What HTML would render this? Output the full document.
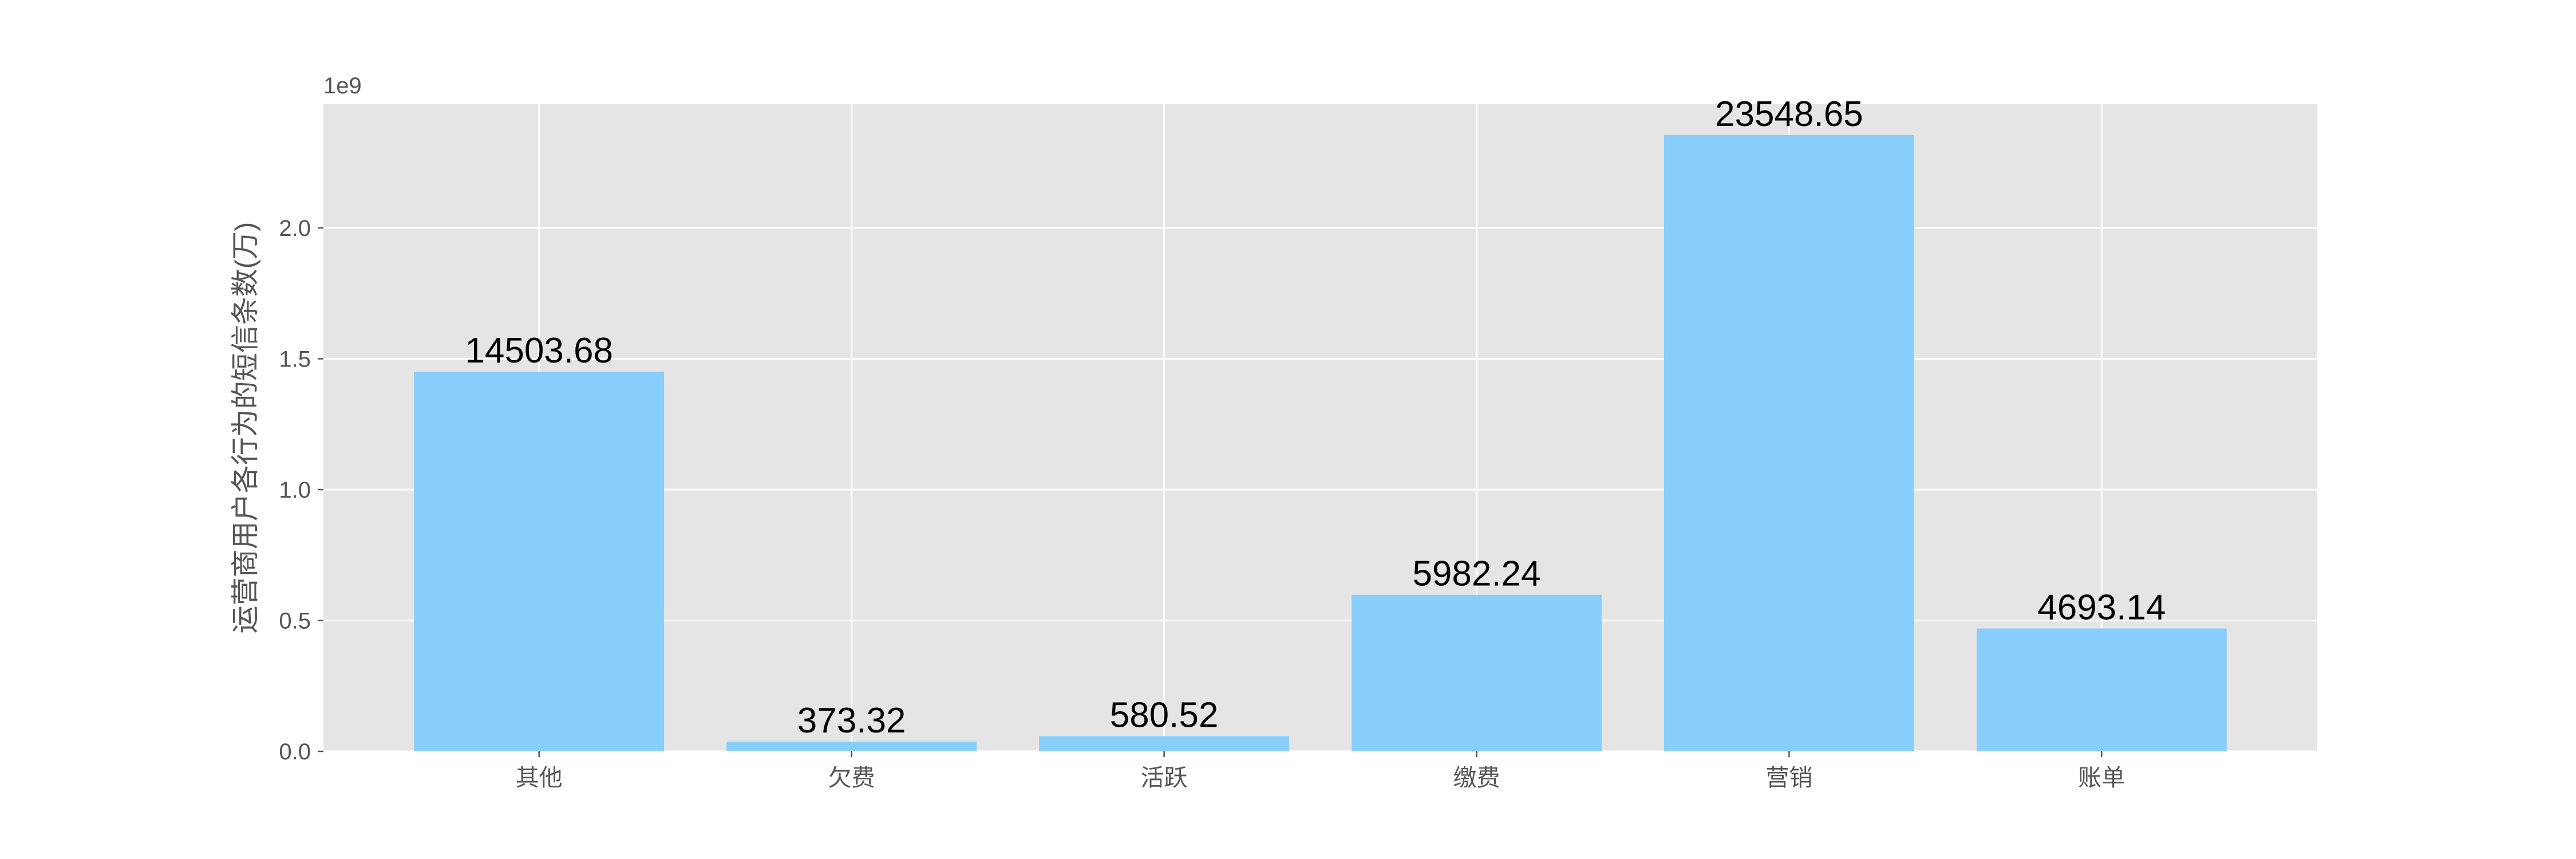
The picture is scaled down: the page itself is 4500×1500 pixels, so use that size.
<!DOCTYPE html>
<html><head><meta charset="utf-8"><style>
html,body{margin:0;padding:0;background:#fff;width:4500px;height:1500px;overflow:hidden}
text{font-family:"Liberation Sans","Noto Sans CJK SC",sans-serif}
</style></head><body>
<svg id="chart" width="4500" height="1500" xmlns="http://www.w3.org/2000/svg"></svg>
<script>
const categories = ["其他","欠费","活跃","缴费","营销","账单"];
const values = [14503.68, 373.32, 580.52, 5982.24, 23548.65, 4693.14];
const yTicks = [0, 0.5, 1.0, 1.5, 2.0];
const yTickLabels = ["0.0","0.5","1.0","1.5","2.0"];

const NS = "http://www.w3.org/2000/svg";
const svg = document.getElementById("chart");
const L = 565, R = 4048, T = 182, B = 1312;
const scaleFactor = 1e5;
const yMax = Math.max(...values) * scaleFactor * 1.05;
const xMin = -0.4 - 0.05 * (categories.length - 0.2), xMax = categories.length - 1 + 0.4 + 0.05 * (categories.length - 0.2);
function xs(i){ return L + (i - xMin) / (xMax - xMin) * (R - L); }
function ys(v){ return B - v / yMax * (B - T); }
function mk(tag, attrs, parent){
  const e = document.createElementNS(NS, tag);
  for (const k in attrs) e.setAttribute(k, attrs[k]);
  (parent || svg).appendChild(e);
  return e;
}
const bg = mk("rect", {x:L, y:T, width:R-L, height:B-T, fill:"#e5e5e5"});



yTicks.forEach((t, i) => {
  const y = ys(t * 1e9);
  const g = mk("line", {x1:L, x2:R, y1:y, y2:y, stroke:"#fff", "stroke-width":3});
  
  
  const tk = mk("line", {x1:L-10, x2:L, y1:y, y2:y, stroke:"#555", "stroke-width":2.5});
  
  
  const tx = mk("text", {x:L-22, y:y+14, "text-anchor":"end", "font-size":40, fill:"#555"});
  tx.textContent = yTickLabels[i];
  
  
});
categories.forEach((c, i) => {
  const x = xs(i);
  const g = mk("line", {x1:x, x2:x, y1:T, y2:B, stroke:"#fff", "stroke-width":3});
  
  
});
categories.forEach((c, i) => {
  const x = xs(i), w = 0.8 / (xMax - xMin) * (R - L);
  const v = values[i] * scaleFactor;
  const bar = mk("rect", {x:x - w/2, y:ys(v), width:w, height:B - ys(v), fill:"#87cefa"});
  
  
  const lab = mk("text", {x:x, y:ys(v) - 16, "text-anchor":"middle", "font-size":62, fill:"#000"});
  lab.textContent = values[i].toFixed(2);
  
  
  const tk = mk("line", {x1:x, x2:x, y1:B, y2:B+10, stroke:"#555", "stroke-width":2.5});
  
  
  const tx = mk("text", {x:x, y:B+60, "text-anchor":"middle", "font-size":41, fill:"#555"});
  tx.textContent = c;
  
  
});
const off = mk("text", {x:L, y:163, "font-size":40, fill:"#555"});
off.textContent = "1e9";


const yt = mk("text", {x:0, y:0, "text-anchor":"middle", "font-size":49, fill:"#555", transform:"translate(445," + ((T+B)/2) + ") rotate(-90)"});
yt.textContent = "运营商用户各行为的短信条数(万)";


</script>
</body></html>
